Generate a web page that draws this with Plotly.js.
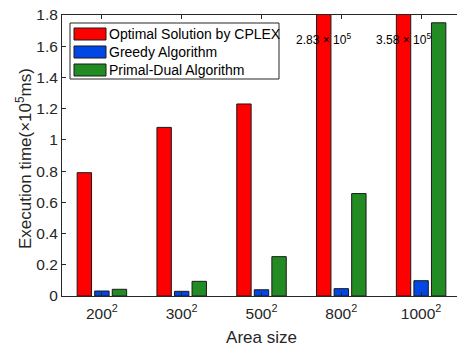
<!DOCTYPE html>
<html>
<head>
<meta charset="utf-8">
<script src="https://cdn.plot.ly/plotly-3.0.1.min.js"></script>
<style>
html,body{margin:0;padding:0;overflow:hidden;background:#fff;width:457px;height:351px;}
#chart{width:462px;height:351px;}
</style>
</head>
<body>
<div id="chart"></div>
<script>
// Data
const categories = ['200<sup>2</sup>', '300<sup>2</sup>', '500<sup>2</sup>', '800<sup>2</sup>', '1000<sup>2</sup>'];
const seriesNames = ['Optimal Solution by CPLEX', 'Greedy Algorithm', 'Primal-Dual Algorithm'];
const cplex = [0.79, 1.08, 1.23, 2.83, 3.58];
const greedy = [0.032, 0.03, 0.04, 0.047, 0.098];
const primalDual = [0.043, 0.094, 0.252, 0.656, 1.75];
const clippedLabels = ['', '', '', '2.83 × 10<sup>5</sup>', '3.58 × 10<sup>5</sup>'];
const yTicks = [0, 0.2, 0.4, 0.6, 0.8, 1, 1.2, 1.4, 1.6, 1.8];
const xTitle = 'Area size';
const yTitle = 'Execution time(×10<sup>5</sup>ms)';

const colors = ['#ff0000', '#0047e6', '#238b23'];
const xPos = categories.map((c, i) => i + 1);
const allSeries = [cplex, greedy, primalDual];

const traces = allSeries.map((vals, k) => ({
  type: 'bar',
  x: xPos,
  y: vals,
  name: seriesNames[k],
  marker: {color: colors[k], line: {color: '#1a1a1a', width: 1}},
  showlegend: false,
  hoverinfo: 'skip'
}));

const axisColor = '#262626';
const font = {family: 'Liberation Sans, Arial, sans-serif', color: axisColor};

const annotations = [];
clippedLabels.forEach((t, i) => {
  if (t) annotations.push({
    x: xPos[i] - 0.22, y: 1.645, xref: 'x', yref: 'y', text: t, showarrow: false,
    font: {family: font.family, size: 12, color: '#000'}, xanchor: 'center', yanchor: 'middle'
  });
});

// custom legend (paper coords)
const shapes = [];
const L = 62, R = 461, T = 15, B = 296;
const px = v => (v - L) / (R - L);
const py = v => (B - v) / (B - T);
shapes.push({type: 'rect', xref: 'paper', yref: 'paper', x0: px(70), x1: px(279), y0: py(79), y1: py(23),
  line: {color: '#262626', width: 1}, fillcolor: '#fff', layer: 'above'});
seriesNames.forEach((n, k) => {
  const yt = 28 + 18 * k;
  shapes.push({type: 'rect', xref: 'paper', yref: 'paper', x0: px(74), x1: px(106), y0: py(yt + 12), y1: py(yt),
    line: {color: '#1a1a1a', width: 1}, fillcolor: colors[k], layer: 'above'});
  annotations.push({xref: 'paper', yref: 'paper', x: px(107), y: py(yt + 6), text: n, showarrow: false,
    xanchor: 'left', yanchor: 'middle', font: {family: font.family, size: 14, color: '#000'}});
});

// y-axis title as rotated annotation for precise placement
annotations.push({xref: 'paper', yref: 'paper', x: px(24), y: py(159), text: yTitle, showarrow: false,
  textangle: -90, xanchor: 'center', yanchor: 'middle',
  font: {family: font.family, size: 17, color: axisColor}});

const layout = {
  width: 462, height: 351,
  margin: {l: 62, r: 1, t: 15, b: 55},
  paper_bgcolor: '#fff', plot_bgcolor: '#fff',
  font: font,
  barmode: 'group', bargap: 0.34, bargroupgap: 0.18,
  xaxis: {
    range: [0.5, 5.5], tickvals: xPos, ticktext: categories,
    showline: true, linecolor: axisColor, linewidth: 1, mirror: 'ticks',
    ticks: 'inside', ticklen: 4, tickcolor: axisColor, showgrid: false, zeroline: false,
    ticklabelstandoff: 3,
    tickfont: {size: 15.5, family: font.family, color: axisColor},
    title: {text: xTitle, font: {size: 17, family: font.family, color: axisColor}, standoff: 10}
  },
  yaxis: {
    range: [0, 1.8], tickvals: yTicks,
    showline: true, linecolor: axisColor, linewidth: 1, mirror: 'ticks',
    ticks: 'inside', ticklen: 4, tickcolor: axisColor, showgrid: false, zeroline: false,
    tickfont: {size: 15.5, family: font.family, color: axisColor}
  },
  shapes: shapes,
  annotations: annotations,
  showlegend: false
};

Plotly.newPlot('chart', traces, layout, {staticPlot: true, displayModeBar: false});
</script>
</body>
</html>
